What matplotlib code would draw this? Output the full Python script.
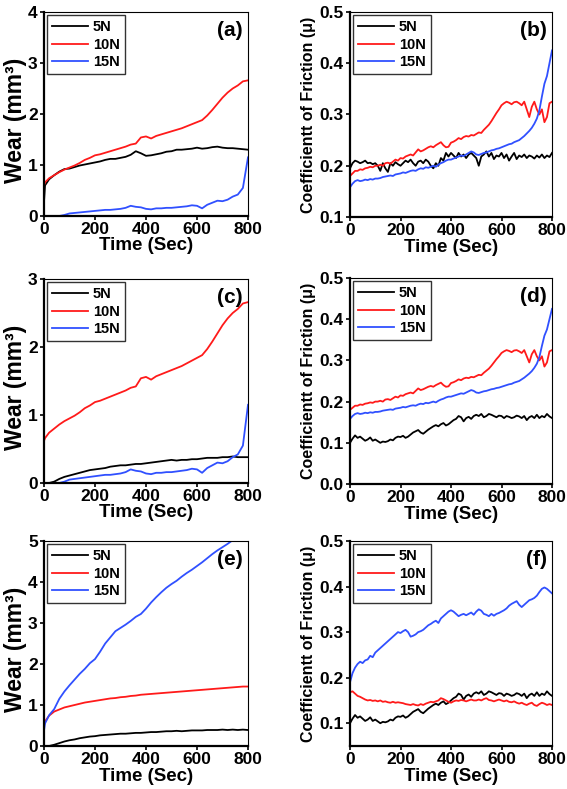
import numpy as np
import matplotlib
matplotlib.use('Agg')
import matplotlib.pyplot as plt
from matplotlib.ticker import FormatStrFormatter, MultipleLocator

plt.rcParams['font.family'] = ['Liberation Sans', 'DejaVu Sans']
plt.rcParams['font.weight'] = 'bold'

# time grids (sec)
t_wear = np.r_[0, 4, np.arange(20, 801, 20)]
t_fric = np.arange(0, 801, 10)

loads = ['5N', '10N', '15N']
colors = ['black', '#ff1a1a', '#3050ff']
nan = np.nan

# ---- wear (mm^3) ----
a_5N = [0.28, 0.6, 0.72, 0.8, 0.87, 0.92, 0.93, 0.96, 0.99, 1.01, 1.03, 1.05,
        1.07, 1.1, 1.12, 1.12, 1.14, 1.16, 1.2, 1.27, 1.23, 1.18, 1.19, 1.21,
        1.23, 1.26, 1.27, 1.3, 1.3, 1.31, 1.32, 1.34, 1.32, 1.33, 1.35, 1.36,
        1.34, 1.33, 1.33, 1.32, 1.31, 1.3]
a_10N = [0.6, 0.66, 0.74, 0.8, 0.86, 0.91, 0.95, 0.99, 1.04, 1.1, 1.14, 1.19,
         1.21, 1.24, 1.27, 1.3, 1.33, 1.36, 1.4, 1.42, 1.54, 1.56, 1.52, 1.57,
         1.6, 1.63, 1.66, 1.69, 1.72, 1.76, 1.8, 1.84, 1.88, 1.97, 2.08, 2.2,
         2.32, 2.42, 2.5, 2.56, 2.64, 2.66]
a_15N = [nan, nan, nan, nan,
         0.0, 0.02, 0.05, 0.06, 0.07, 0.08, 0.09, 0.1, 0.11, 0.12,
         0.12, 0.13, 0.14, 0.16, 0.2, 0.18, 0.17, 0.14, 0.13, 0.15,
         0.15, 0.16, 0.16, 0.17, 0.18, 0.19, 0.21, 0.2, 0.15, 0.22,
         0.26, 0.3, 0.29, 0.32, 0.38, 0.42, 0.55, 1.15]

c_5N = [nan, nan,
        0.0, 0.02, 0.06, 0.09, 0.11, 0.13, 0.15, 0.17, 0.19, 0.2,
        0.21, 0.22, 0.24, 0.25, 0.26, 0.26, 0.27, 0.28, 0.28, 0.29,
        0.3, 0.31, 0.32, 0.33, 0.34, 0.33, 0.34, 0.34, 0.35, 0.35,
        0.36, 0.37, 0.37, 0.37, 0.38, 0.38, 0.39, 0.38, 0.38, 0.38]
c_10N = [0.62] + a_10N[1:]
c_15N = a_15N

e_5N = [nan, nan,
        0.0, 0.03, 0.07, 0.11, 0.14, 0.16, 0.19, 0.21, 0.23, 0.24,
        0.26, 0.27, 0.28, 0.29, 0.3, 0.3, 0.31, 0.32, 0.32, 0.33,
        0.34, 0.34, 0.35, 0.36, 0.36, 0.37, 0.36, 0.37, 0.38, 0.38,
        0.38, 0.39, 0.39, 0.39, 0.4, 0.39, 0.4, 0.39, 0.4, 0.39]
e_10N = [0.5, 0.6,
         0.74, 0.84, 0.89, 0.94, 0.97, 1.0, 1.03, 1.06, 1.08, 1.1,
         1.12, 1.14, 1.16, 1.17, 1.19, 1.2, 1.22, 1.23, 1.25, 1.26,
         1.27, 1.28, 1.29, 1.3, 1.31, 1.32, 1.33, 1.34, 1.35, 1.36,
         1.37, 1.38, 1.39, 1.4, 1.41, 1.42, 1.43, 1.44, 1.45, 1.45]
e_15N = [0.38, 0.55,
         0.75, 0.9, 1.15, 1.33, 1.48, 1.62, 1.76, 1.88, 2.02, 2.12,
         2.3, 2.5, 2.65, 2.8, 2.88, 2.96, 3.05, 3.15, 3.22, 3.35,
         3.5, 3.63, 3.75, 3.86, 3.95, 4.03, 4.13, 4.22, 4.3, 4.39,
         4.48, 4.58, 4.68, 4.77, 4.85, 4.93, 5.02, 5.1, 5.18, 5.25]

# ---- coefficient of friction ----
b_5N = [0.195, 0.205, 0.21, 0.208, 0.205, 0.207, 0.21, 0.205, 0.206, 0.203,
        0.205, 0.2, 0.19, 0.205, 0.195, 0.188, 0.205, 0.2, 0.207, 0.203,
        0.2, 0.205, 0.21, 0.207, 0.212, 0.205, 0.2, 0.208, 0.21, 0.205,
        0.212, 0.208, 0.2, 0.195, 0.205, 0.2, 0.215, 0.21, 0.225, 0.218,
        0.225, 0.22, 0.215, 0.225, 0.218, 0.222, 0.215, 0.222, 0.225, 0.22,
        0.215, 0.2, 0.218, 0.222, 0.228, 0.218, 0.225, 0.213, 0.22, 0.218,
        0.225, 0.215, 0.222, 0.21, 0.218, 0.225, 0.213, 0.22, 0.217, 0.222,
        0.215, 0.22, 0.218, 0.214, 0.22, 0.216, 0.222, 0.215, 0.22, 0.217,
        0.225]
b_10N = [0.18, 0.185, 0.19, 0.19, 0.193, 0.192, 0.195, 0.196, 0.198, 0.197,
         0.2, 0.2, 0.202, 0.2, 0.205, 0.206, 0.204, 0.208, 0.212, 0.21,
         0.215, 0.214, 0.218, 0.22, 0.222, 0.22, 0.226, 0.232, 0.228, 0.23,
         0.233, 0.236, 0.238, 0.236, 0.24, 0.243, 0.246, 0.24, 0.236, 0.237,
         0.245, 0.247, 0.25, 0.254, 0.252, 0.256, 0.258, 0.257, 0.26, 0.259,
         0.262, 0.265, 0.264, 0.27, 0.275, 0.28, 0.287, 0.295, 0.303, 0.31,
         0.318, 0.322, 0.325, 0.323, 0.32, 0.324, 0.325, 0.322, 0.318, 0.325,
         0.31, 0.295, 0.315, 0.325, 0.31, 0.3, 0.31, 0.285, 0.295, 0.322,
         0.325]
b_15N = [0.158, 0.165, 0.17, 0.172, 0.17, 0.171, 0.173, 0.172, 0.174, 0.173,
         0.175, 0.175, 0.176, 0.178, 0.179, 0.18, 0.181, 0.18, 0.183, 0.184,
         0.185, 0.187, 0.186, 0.188, 0.19, 0.191, 0.19, 0.193, 0.195, 0.194,
         0.197, 0.196, 0.198, 0.2, 0.198, 0.202, 0.205, 0.207, 0.21, 0.212,
         0.212, 0.214, 0.216, 0.218, 0.22, 0.219, 0.222, 0.225, 0.228, 0.226,
         0.222, 0.221, 0.223, 0.225, 0.226, 0.228, 0.23, 0.231, 0.233, 0.234,
         0.236, 0.238, 0.24, 0.242, 0.243, 0.246, 0.248, 0.25, 0.254, 0.258,
         0.263, 0.268, 0.274, 0.282, 0.292, 0.308, 0.335, 0.36, 0.375, 0.4,
         0.425]

d_5N = [0.1, 0.11, 0.118, 0.112, 0.115, 0.11, 0.105, 0.108, 0.113, 0.105,
        0.108, 0.104, 0.1, 0.103, 0.102, 0.104, 0.108, 0.106, 0.112, 0.115,
        0.114, 0.117, 0.112, 0.115, 0.12, 0.125, 0.128, 0.131, 0.125, 0.122,
        0.127, 0.132, 0.136, 0.14, 0.143, 0.14, 0.145, 0.148, 0.142, 0.145,
        0.15, 0.155, 0.158, 0.165, 0.162, 0.152, 0.16, 0.163, 0.158, 0.165,
        0.168, 0.165, 0.17, 0.162, 0.165, 0.17, 0.168, 0.165, 0.162, 0.166,
        0.165, 0.16, 0.165, 0.163, 0.16, 0.162, 0.166, 0.164, 0.16, 0.165,
        0.155, 0.162, 0.165, 0.16, 0.168, 0.16, 0.165, 0.162, 0.17, 0.164,
        0.16]
d_10N = b_10N
d_15N = b_15N

f_5N = d_5N
f_10N = [0.168, 0.17, 0.165, 0.16, 0.158, 0.155, 0.152, 0.15, 0.151, 0.149,
         0.15, 0.148, 0.15, 0.147, 0.148, 0.146, 0.145, 0.147, 0.145, 0.146,
         0.145, 0.144, 0.142, 0.141, 0.14, 0.142, 0.14, 0.139, 0.142, 0.14,
         0.143, 0.145, 0.147, 0.146, 0.148, 0.15, 0.155, 0.153, 0.15, 0.147,
         0.145, 0.148, 0.15, 0.149, 0.151, 0.15, 0.148, 0.15, 0.152, 0.15,
         0.15, 0.152, 0.15, 0.153, 0.155, 0.151, 0.15, 0.148, 0.15, 0.152,
         0.15, 0.148, 0.15, 0.147, 0.146, 0.148, 0.145, 0.143, 0.145, 0.142,
         0.14, 0.143, 0.145, 0.14, 0.138, 0.142, 0.145, 0.143, 0.14, 0.142,
         0.14]
f_15N = [0.19, 0.21, 0.222, 0.23, 0.235, 0.232, 0.238, 0.24, 0.248, 0.245,
         0.255, 0.26, 0.265, 0.27, 0.275, 0.28, 0.285, 0.29, 0.295, 0.3,
         0.298, 0.302, 0.305, 0.3, 0.29, 0.292, 0.295, 0.3, 0.302, 0.305,
         0.31, 0.315, 0.318, 0.322, 0.325, 0.32, 0.33, 0.335, 0.34, 0.345,
         0.348, 0.345, 0.34, 0.335, 0.338, 0.34, 0.337, 0.34, 0.343, 0.338,
         0.345, 0.35, 0.347, 0.34, 0.338, 0.335, 0.34, 0.336, 0.34, 0.342,
         0.345, 0.348, 0.352, 0.358, 0.362, 0.365, 0.368, 0.36, 0.355, 0.36,
         0.365, 0.37, 0.372, 0.375, 0.38, 0.388, 0.395, 0.398, 0.395, 0.39,
         0.385]

W_PX, H_PX = 567, 789
fig = plt.figure(figsize=(W_PX / 100, H_PX / 100), dpi=100)


def _axes(x0, x1, y0, y1):
    # pixel box -> figure fraction
    return fig.add_axes([x0 / W_PX, 1 - y1 / H_PX,
                         (x1 - x0) / W_PX, (y1 - y0) / H_PX])


WEAR_LABEL = 'Wear (mm\u00b3)'
COF_LABEL = 'Coefficientt of Friction (\u03bc)'

panels = [
    # tag, pixel box, t, series, ylim, ystep, ylabel, fmt
    ('(a)', (44, 248, 12, 216), t_wear, [a_5N, a_10N, a_15N], (0, 4), 1, WEAR_LABEL, '%d'),
    ('(b)', (350, 552, 12, 217), t_fric, [b_5N, b_10N, b_15N], (0.1, 0.5), 0.1, COF_LABEL, '%.1f'),
    ('(c)', (44, 248, 279, 483), t_wear, [c_5N, c_10N, c_15N], (0, 3), 1, WEAR_LABEL, '%d'),
    ('(d)', (350, 552, 278, 484), t_fric, [d_5N, d_10N, d_15N], (0.0, 0.5), 0.1, COF_LABEL, '%.1f'),
    ('(e)', (44, 248, 541, 746), t_wear, [e_5N, e_10N, e_15N], (0, 5), 1, WEAR_LABEL, '%d'),
    ('(f)', (350, 552, 541, 746), t_fric, [f_5N, f_10N, f_15N], (0.05, 0.5), 0.1, COF_LABEL, '%.1f'),
]

for tag, box, t, series, ylim, ystep, ylabel, fmt in panels:
    ax = _axes(*box)
    for vals, lbl, col in zip(series, loads, colors):
        ax.plot(t, vals, color=col, lw=1.3, label=lbl)
    ax.set_xlim(0, 800)
    ax.set_ylim(*ylim)
    ax.xaxis.set_major_locator(MultipleLocator(200))
    ax.yaxis.set_major_locator(MultipleLocator(ystep))
    ax.yaxis.set_major_formatter(FormatStrFormatter(fmt))
    ax.tick_params(direction='out', length=3, width=1.2, labelsize=12.5, pad=1.5)
    for s in ('left', 'bottom'):
        ax.spines[s].set_linewidth(1.6)
    for s in ('top', 'right'):
        ax.spines[s].set_linewidth(0.8)
    for lab in ax.get_xticklabels() + ax.get_yticklabels():
        lab.set_fontweight('bold')

    ax.set_xlabel('Time (Sec)', fontsize=13.5, fontweight='bold')
    ax.xaxis.set_label_coords(0.5, -0.105)
    if ylabel == WEAR_LABEL:
        ax.set_ylabel(ylabel, fontsize=16.5, fontweight='bold')
        ax.yaxis.set_label_coords(-0.085, 0.47)
    else:
        ax.set_ylabel(ylabel, fontsize=11.5, fontweight='bold')
        ax.yaxis.set_label_coords(-0.17, 0.5)

    ax.text(0.975, 0.91, tag, transform=ax.transAxes, ha='right', va='center',
            fontsize=15, fontweight='bold')

    leg = ax.legend(loc='upper left', fontsize=10.5, frameon=True, fancybox=False,
                    handlelength=2.5, handletextpad=0.3, labelspacing=0.25,
                    borderpad=0.35, borderaxespad=0.2, alignment='left')
    leg.get_frame().set_edgecolor('black')
    leg.get_frame().set_linewidth(1.0)
    for txt in leg.get_texts():
        txt.set_fontweight('bold')

fig.savefig('out.png', dpi=100)
